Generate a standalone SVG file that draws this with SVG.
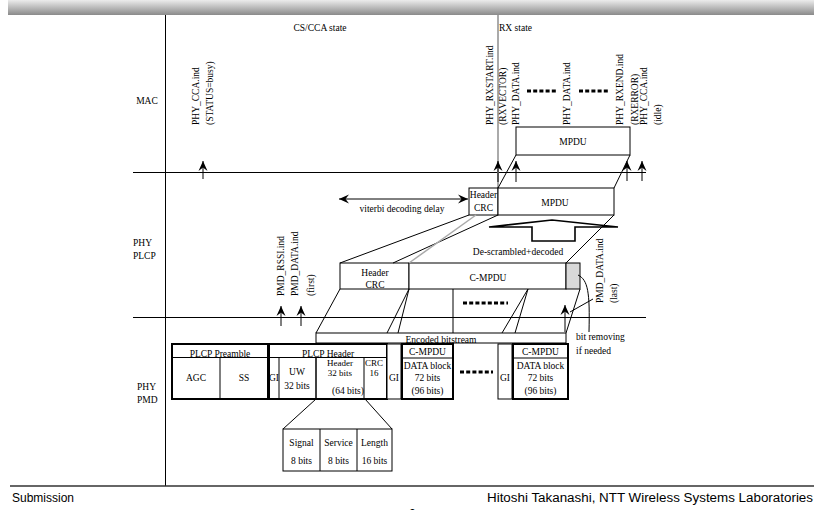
<svg xmlns="http://www.w3.org/2000/svg" width="814" height="510" viewBox="0 0 814 510">
<defs>
<linearGradient id="bar" x1="0" y1="0" x2="0" y2="1">
<stop offset="0" stop-color="#ececec"/>
<stop offset="1" stop-color="#8a8a8a"/>
</linearGradient>
<marker id="ah" viewBox="-11 -5 12 10" refX="0" refY="0" markerWidth="12" markerHeight="10" markerUnits="userSpaceOnUse" orient="auto-start-reverse">
<path d="M0,0 L-10,-4.5 L-6.5,0 L-10,4.5 Z" fill="#000"/>
</marker>
<style>
.t{font-family:"Liberation Serif","Times New Roman",serif;font-size:9.5px;fill:#000}
.s{font-size:9px}
.m{text-anchor:middle}
.f{font-family:"Liberation Sans",Arial,sans-serif;font-size:12px;fill:#000}
.box{fill:#fff;stroke:#000;stroke-width:1}
.tk{fill:none;stroke:#000;stroke-width:2}
.ln{fill:none;stroke:#000;stroke-width:1}
.ar{fill:none;stroke:#000;stroke-width:1;marker-end:url(#ah)}
.dots{stroke:#000;stroke-width:3;stroke-dasharray:4 2.2}
</style>
</defs>

<g id="frame">
<rect x="8" y="0" width="806" height="15" fill="url(#bar)"/>
<line x1="165.5" y1="15" x2="165.5" y2="486" class="ln"/>
<line x1="133" y1="172.5" x2="646" y2="172.5" class="ln"/>
<line x1="133" y1="317.5" x2="646" y2="317.5" class="ln"/>
<line x1="10" y1="486" x2="814" y2="486" stroke="#333" stroke-width="1.5"/>
<line x1="498" y1="15" x2="498" y2="188" stroke="#aaa" stroke-width="2"/>
<text class="t m" x="320" y="31">CS/CCA state</text>
<text class="t" x="499" y="31">RX state</text>
<text class="t m" x="147" y="103.5">MAC</text>
<text class="t" x="133" y="245.5">PHY</text>
<text class="t" x="133" y="258.5">PLCP</text>
<text class="t" x="137" y="389.5">PHY</text>
<text class="t" x="137" y="402.5">PMD</text>
<text class="f" x="12" y="502">Submission</text>
<text class="f" x="813" y="502" text-anchor="end" textLength="326" lengthAdjust="spacingAndGlyphs">Hitoshi Takanashi, NTT Wireless Systems Laboratories</text>
<text class="f" x="409" y="518">2</text>
</g>

<g id="mac-labels">
<text class="t" transform="translate(199,125) rotate(-90)">PHY_CCA.ind</text>
<text class="t" transform="translate(213,125) rotate(-90)">(STATUS=busy)</text>
<text class="t" transform="translate(493,125) rotate(-90)">PHY_RXSTART.ind</text>
<text class="t" transform="translate(506,125) rotate(-90)">(RXVECTOR)</text>
<text class="t" transform="translate(519,125) rotate(-90)">PHY_DATA.ind</text>
<text class="t" transform="translate(570,125) rotate(-90)">PHY_DATA.ind</text>
<text class="t" transform="translate(623,125) rotate(-90)">PHY_RXEND.ind</text>
<text class="t" transform="translate(638,125) rotate(-90)">(RXERROR)</text>
<text class="t" transform="translate(647,125) rotate(-90)">PHY_CCA.ind</text>
<text class="t" transform="translate(661,125) rotate(-90)">(idle)</text>
<line x1="527" y1="91" x2="558" y2="91" class="dots"/>
<line x1="579" y1="91" x2="610" y2="91" class="dots"/>
</g>

<g id="mac-mpdu">
<rect x="516" y="127" width="114" height="28" class="box"/>
<text class="t m" x="573" y="145">MPDU</text>
</g>

<g id="plcp-header-crc">
<rect x="469" y="188" width="29" height="27" class="box"/>
<text class="t m" x="483.5" y="198">Header</text>
<text class="t m" x="483.5" y="211">CRC</text>
</g>
<g id="plcp-mpdu">
<rect x="498" y="188" width="116" height="27" class="box"/>
<text class="t m" x="555" y="206">MPDU</text>
</g>

<g id="viterbi">
<text class="t m" x="402" y="212">viterbi decoding delay</text>
</g>

<g id="descramble-arrow">
<polygon points="489,227 552,220 618,227 575,227 575,241 532,241 532,227" fill="#fff" stroke="#000" stroke-width="1.6" stroke-linejoin="miter"/>
<text class="t m" x="518" y="255">De-scrambled+decoded</text>
</g>

<g id="coded-header-crc">
<rect x="340" y="263" width="69" height="26" class="box"/>
<text class="t m" x="375" y="276">Header</text>
<text class="t m" x="375" y="288">CRC</text>
</g>
<g id="coded-cmpdu">
<rect x="409" y="263" width="157" height="26" class="box"/>
<text class="t m" x="488" y="281">C-MPDU</text>
<rect x="566" y="263" width="14" height="26" fill="#d9d9d9" stroke="#000" stroke-width="1"/>
<line x1="453" y1="289" x2="453" y2="333" class="ln"/>
<line x1="463" y1="303" x2="508" y2="303" class="dots"/>
</g>

<g id="pmd-labels">
<text class="t" transform="translate(284,296) rotate(-90)">PMD_RSSI.ind</text>
<text class="t" transform="translate(298,296) rotate(-90)">PMD_DATA.ind</text>
<text class="t" transform="translate(314,296) rotate(-90)">(first)</text>
<text class="t" transform="translate(603,303) rotate(-90)">PMD_DATA.ind</text>
<text class="t" transform="translate(617,303) rotate(-90)">(last)</text>
<text class="t" x="576" y="340">bit removing</text>
<text class="t" x="576" y="354">if needed</text>
</g>

<g id="encoded">
<rect x="316" y="333" width="250" height="10" class="box"/>
<text class="t m" x="441" y="342.5">Encoded bitstream</text>
</g>

<g id="plcp-preamble">
<rect x="172" y="344" width="96" height="55" class="tk" fill="#fff"/>
<line x1="172" y1="357.5" x2="268" y2="357.5" class="ln"/>
<line x1="220" y1="357.5" x2="220" y2="399" class="ln"/>
<text class="t m" x="220" y="356.5">PLCP Preamble</text>
<text class="t m" x="196" y="381">AGC</text>
<text class="t m" x="244" y="381">SS</text>
</g>

<g id="plcp-header">
<rect x="269" y="344" width="118" height="55" class="tk" fill="#fff"/>
<line x1="269" y1="357.5" x2="387" y2="357.5" class="ln"/>
<line x1="279" y1="357.5" x2="279" y2="399" class="ln"/>
<line x1="316" y1="357.5" x2="316" y2="399" stroke="#000" stroke-width="1.5"/>
<line x1="364" y1="357.5" x2="364" y2="399" class="ln"/>
<text class="t m" x="328" y="356.5">PLCP Header</text>
<text class="t m" x="274" y="381">GI</text>
<text class="t m" x="297" y="375">UW</text>
<text class="t m" x="297" y="389">32 bits</text>
<text class="t s m" x="340" y="366">Header</text>
<text class="t s m" x="340" y="376">32 bits</text>
<text class="t m" x="348" y="394">(64 bits)</text>
<text class="t s m" x="374" y="366">CRC</text>
<text class="t s m" x="374" y="376">16</text>
</g>

<g id="gi-1">
<rect x="387" y="344" width="14" height="55" class="box"/>
<text class="t m" x="394" y="381">GI</text>
</g>

<g id="cmpdu-1">
<rect x="402" y="344" width="51" height="55" class="tk" fill="#fff"/>
<line x1="402" y1="358" x2="453" y2="358" class="ln"/>
<text class="t m" x="427.5" y="355">C-MPDU</text>
<text class="t m" x="427.5" y="369">DATA block</text>
<text class="t m" x="427.5" y="381">72 bits</text>
<text class="t m" x="427.5" y="394">(96 bits)</text>
</g>

<g id="pmd-dots">
<line x1="460" y1="372" x2="493" y2="372" class="dots"/>
</g>

<g id="gi-2">
<rect x="498" y="344" width="14" height="55" class="box"/>
<text class="t m" x="505" y="381">GI</text>
</g>

<g id="cmpdu-2">
<rect x="513" y="344" width="55" height="55" class="tk" fill="#fff"/>
<line x1="513" y1="358" x2="568" y2="358" class="ln"/>
<text class="t m" x="540.5" y="355">C-MPDU</text>
<text class="t m" x="540.5" y="369">DATA block</text>
<text class="t m" x="540.5" y="381">72 bits</text>
<text class="t m" x="540.5" y="394">(96 bits)</text>
</g>

<g id="signal-fields">
<rect x="283" y="429" width="109" height="42" class="box"/>
<line x1="320" y1="429" x2="320" y2="471" class="ln"/>
<line x1="357" y1="429" x2="357" y2="471" class="ln"/>
<text class="t m" x="301.5" y="446">Signal</text>
<text class="t m" x="301.5" y="464">8 bits</text>
<text class="t m" x="338.5" y="446">Service</text>
<text class="t m" x="338.5" y="464">8 bits</text>
<text class="t m" x="374.5" y="446">Length</text>
<text class="t m" x="374.5" y="464">16 bits</text>
</g>

<g id="connectors">
<line x1="203" y1="179" x2="203" y2="161" class="ar"/>
<line x1="498" y1="182" x2="498" y2="161" class="ar"/>
<line x1="516" y1="182" x2="516" y2="161" class="ar"/>
<line x1="627" y1="181" x2="627" y2="161" class="ar"/>
<line x1="642" y1="181" x2="642" y2="161" class="ar"/>
<line x1="281" y1="326" x2="281" y2="306" class="ar"/>
<line x1="301" y1="326" x2="301" y2="306" class="ar"/>
<line x1="565" y1="332" x2="565" y2="305" class="ar"/>
<line x1="339" y1="199" x2="468" y2="199" class="ar" marker-start="url(#ah)"/>
<line x1="516" y1="155" x2="498" y2="188" class="ln"/>
<line x1="630" y1="155" x2="614" y2="188" class="ln"/>
<line x1="469" y1="215" x2="340" y2="263" class="ln"/>
<line x1="498" y1="215" x2="393" y2="263" class="ln"/>
<line x1="476" y1="215" x2="409" y2="263" stroke="#aaa" stroke-width="1.5"/>
<line x1="614" y1="215" x2="566" y2="263" class="ln"/>
<line x1="340" y1="289" x2="316" y2="333" class="ln"/>
<line x1="409" y1="289" x2="387" y2="333" class="ln"/>
<line x1="409" y1="289" x2="398" y2="333" class="ln"/>
<line x1="528" y1="289" x2="502" y2="333" class="ln"/>
<line x1="528" y1="289" x2="515" y2="333" class="ln"/>
<line x1="580" y1="289" x2="566" y2="333" class="ln"/>
<line x1="593" y1="299" x2="570" y2="312" class="ln"/>
<path d="M578,275 C588,280 590,292 589,332" class="ln"/>
<line x1="316" y1="399" x2="283" y2="429" class="ln"/>
<line x1="365" y1="399" x2="392" y2="429" class="ln"/>
</g>
</svg>
